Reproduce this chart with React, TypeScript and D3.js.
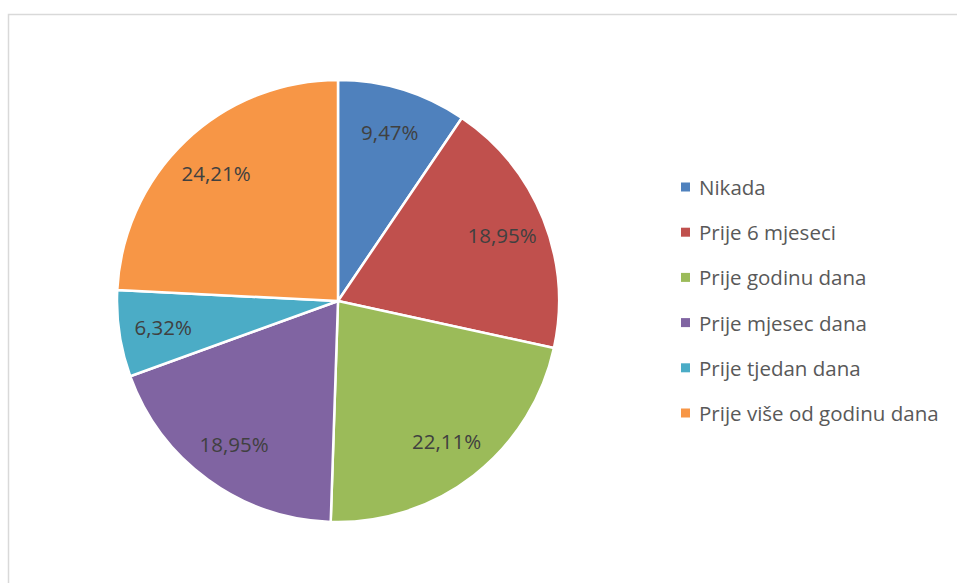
import React, { useEffect, useRef } from 'react';
import * as d3 from 'd3';

const categories = [
  'Nikada',
  'Prije 6 mjeseci',
  'Prije godinu dana',
  'Prije mjesec dana',
  'Prije tjedan dana',
  'Prije više od godinu dana',
];
const values = [9.47, 18.95, 22.11, 18.95, 6.32, 24.21];
const labels = ['9,47%', '18,95%', '22,11%', '18,95%', '6,32%', '24,21%'];
const colors = ['#4f81bd', '#c0504d', '#9bbb59', '#8064a2', '#4bacc6', '#f79646'];

const App: React.FC = () => {
  const svgRef = useRef<SVGSVGElement>(null);

  useEffect(() => {
    if (!svgRef.current) return;
    const svg = d3.select(svgRef.current);
    svg.selectAll('*').remove();

    const cx = 338;
    const cy = 301;
    const radius = 221;
    const font = "'Open Sans', 'Liberation Sans', sans-serif";

    // chart area border
    svg
      .append('rect')
      .attr('x', 8.5)
      .attr('y', 14.5)
      .attr('width', 960)
      .attr('height', 600)
      .attr('fill', 'white')
      .attr('stroke', '#d9d9d9')
      .attr('stroke-width', 1.5);

    const data = categories.map((c, i) => ({ name: c, value: values[i], label: labels[i], color: colors[i] }));

    const pie = d3
      .pie<{ name: string; value: number; label: string; color: string }>()
      .value((d) => d.value)
      .sort(null);

    const arc = d3
      .arc<d3.PieArcDatum<{ name: string; value: number; label: string; color: string }>>()
      .innerRadius(0)
      .outerRadius(radius);

    const labelArc = d3
      .arc<d3.PieArcDatum<{ name: string; value: number; label: string; color: string }>>()
      .innerRadius(radius * 0.8)
      .outerRadius(radius * 0.8);

    const g = svg.append('g').attr('transform', `translate(${cx},${cy})`);
    const arcs = pie(data);

    g.selectAll('.slice')
      .data(arcs)
      .enter()
      .append('path')
      .attr('class', 'slice')
      .attr('d', arc)
      .attr('fill', (d) => d.data.color)
      .attr('stroke', 'white')
      .attr('stroke-width', 2.5)
      .attr('stroke-linejoin', 'round');

    g.selectAll('.slice-label')
      .data(arcs)
      .enter()
      .append('text')
      .attr('class', 'slice-label')
      .attr('transform', (d) => `translate(${labelArc.centroid(d)})`)
      .attr('text-anchor', 'middle')
      .attr('dominant-baseline', 'central')
      .attr('font-family', font)
      .attr('font-size', 20.5)
      .attr('fill', '#404040')
      .text((d) => d.data.label);

    const legend = svg.append('g').attr('transform', 'translate(681,187)');
    const row = legend
      .selectAll('.legend-row')
      .data(data)
      .enter()
      .append('g')
      .attr('class', 'legend-row')
      .attr('transform', (d, i) => `translate(0,${i * 45.2})`);

    row
      .append('rect')
      .attr('x', 0)
      .attr('y', -4.5)
      .attr('width', 9)
      .attr('height', 9)
      .attr('fill', (d) => d.color);

    row
      .append('text')
      .attr('x', 18)
      .attr('y', 0)
      .attr('dominant-baseline', 'central')
      .attr('font-family', font)
      .attr('font-size', 20.5)
      .attr('fill', '#595959')
      .text((d) => d.name);
  }, []);

  return (
    <svg
      ref={svgRef}
      width="957"
      height="583"
      style={{ position: 'absolute', left: 0, top: 0, background: 'white' }}
    />
  );
};

export default App;
